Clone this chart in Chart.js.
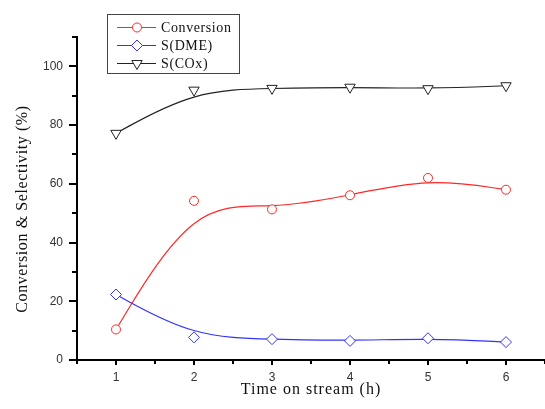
<!DOCTYPE html>
<html>
<head>
<meta charset="utf-8">
<script src="https://cdn.jsdelivr.net/npm/chart.js@4"></script>
<style>
  body { margin: 0; background: #fff; }
  #wrap { width: 545px; height: 409px; }
</style>
</head>
<body>
<div id="wrap"><canvas id="streamChart" width="545" height="409"></canvas></div>
<script>
// time on stream (h) and measured values (%)
const hours = [1, 2, 3, 4, 5, 6];
const conversion = [10.4, 54.2, 51.3, 56.1, 62.0, 58.0];
const selDME = [22.3, 7.7, 7.1, 6.5, 7.4, 6.1];
const selCOx = [77.2, 91.9, 92.5, 92.9, 92.4, 93.4];

const seriesNames = ['Conversion', 'S(DME)', 'S(COx)'];

const xTicks = [1, 2, 3, 4, 5, 6];
const xMinorTicks = [0.5, 1.5, 2.5, 3.5, 4.5, 5.5, 6.5];
const yTicks = [0, 20, 40, 60, 80, 100];
const yMinorTicks = [10, 30, 50, 70, 90, 110];

const RED = 'rgb(255,40,40)';
const BLUE = 'rgb(50,50,255)';
const BLACK = '#222';

function toPoints(values) {
    return hours.map((h, i) => ({ x: h, y: values[i] }));
}

// smooth B-spline through the data points (ends clamped), drawn under the markers
const bsplinePlugin = {
    id: 'bspline',
    beforeDatasetsDraw(chart) {
        const ctx = chart.ctx;
        chart.data.datasets.forEach((ds, i) => {
            const pts = chart.getDatasetMeta(i).data.map(p => ({ x: p.x, y: p.y }));
            const n = pts.length;
            const c = [pts[0], pts[0], ...pts, pts[n - 1], pts[n - 1]];
            ctx.save();
            ctx.beginPath();
            ctx.strokeStyle = ds.borderColor;
            ctx.lineWidth = 1.2;
            for (let k = 0; k + 3 < c.length; k++) {
                const b0 = c[k], b1 = c[k + 1], b2 = c[k + 2], b3 = c[k + 3];
                const sx = (b0.x + 4 * b1.x + b2.x) / 6, sy = (b0.y + 4 * b1.y + b2.y) / 6;
                const c1x = (2 * b1.x + b2.x) / 3, c1y = (2 * b1.y + b2.y) / 3;
                const c2x = (b1.x + 2 * b2.x) / 3, c2y = (b1.y + 2 * b2.y) / 3;
                const ex = (b1.x + 4 * b2.x + b3.x) / 6, ey = (b1.y + 4 * b2.y + b3.y) / 6;
                if (k === 0) ctx.moveTo(sx, sy);
                ctx.bezierCurveTo(c1x, c1y, c2x, c2y, ex, ey);
            }
            ctx.stroke();
            ctx.restore();
        });
    }
};

// minor ticks, axis titles and the boxed legend
const decorPlugin = {
    id: 'decor',
    afterDraw(chart) {
        const ctx = chart.ctx;
        const xs = chart.scales.x, ys = chart.scales.y;
        const area = chart.chartArea;

        ctx.save();
        ctx.strokeStyle = '#000';
        ctx.lineWidth = 2;
        ctx.beginPath();
        xMinorTicks.forEach(v => {
            const px = Math.round(xs.getPixelForValue(v));
            ctx.moveTo(px, area.bottom);
            ctx.lineTo(px, area.bottom + 4);
        });
        yMinorTicks.forEach(v => {
            const py = Math.round(ys.getPixelForValue(v));
            ctx.moveTo(area.left, py);
            ctx.lineTo(area.left - 5, py);
        });
        ctx.stroke();

        // axis titles
        ctx.fillStyle = '#111';
        ctx.font = '16px "Liberation Serif", "Times New Roman", serif';
        ctx.letterSpacing = '1px';
        ctx.textAlign = 'center';
        ctx.textBaseline = 'alphabetic';
        ctx.fillText('Time on stream (h)', 311, 394);

        ctx.save();
        ctx.letterSpacing = '0.6px';
        ctx.translate(27, 209);
        ctx.rotate(-Math.PI / 2);
        ctx.fillText('Conversion & Selectivity (%)', 0, 0);
        ctx.restore();

        // legend
        ctx.letterSpacing = '0px';
        ctx.lineWidth = 1;
        ctx.strokeStyle = '#444';
        ctx.strokeRect(107.5, 14.5, 132, 59);

        ctx.font = '14px "Liberation Serif", "Times New Roman", serif';
        ctx.letterSpacing = '0.6px';
        ctx.textAlign = 'left';
        ctx.textBaseline = 'middle';
        chart.data.datasets.forEach((ds, i) => {
            const y = 27 + i * 18;
            ctx.strokeStyle = ds.borderColor;
            ctx.lineWidth = 1;
            ctx.beginPath();
            ctx.moveTo(117, y + 0.5);
            ctx.lineTo(156, y + 0.5);
            ctx.stroke();
            ctx.fillStyle = '#fff';
            ctx.strokeStyle = ds.pointBorderColor;
            Chart.helpers.drawPoint(ctx, {
                pointStyle: ds.pointStyle,
                radius: ds.pointRadius,
                rotation: ds.pointRotation || 0,
                borderWidth: 1
            }, 137, y + 0.5);
            ctx.fillStyle = '#111';
            ctx.fillText(seriesNames[i], 161, y + 1);
        });
        ctx.restore();
    }
};

const tickFont = { family: '"Liberation Sans", Arial, sans-serif', size: 12 };

new Chart(document.getElementById('streamChart'), {
    type: 'scatter',
    data: {
        datasets: [
            {
                label: seriesNames[0],
                data: toPoints(conversion),
                borderColor: RED,
                pointBorderColor: RED,
                pointBackgroundColor: '#fff',
                pointStyle: 'circle',
                pointRadius: 4.5,
                pointBorderWidth: 1,
                showLine: false
            },
            {
                label: seriesNames[1],
                data: toPoints(selDME),
                borderColor: BLUE,
                pointBorderColor: BLUE,
                pointBackgroundColor: '#fff',
                pointStyle: 'rectRot',
                pointRadius: 5.5,
                pointBorderWidth: 1,
                showLine: false
            },
            {
                label: seriesNames[2],
                data: toPoints(selCOx),
                borderColor: BLACK,
                pointBorderColor: BLACK,
                pointBackgroundColor: '#fff',
                pointStyle: 'triangle',
                pointRotation: 180,
                pointRadius: 6,
                pointBorderWidth: 1,
                showLine: false
            }
        ]
    },
    options: {
        responsive: false,
        animation: false,
        layout: { padding: { top: 37, right: 0, left: 0, bottom: 0 }, autoPadding: false },
        plugins: {
            legend: { display: false },
            tooltip: { enabled: false }
        },
        scales: {
            x: {
                type: 'linear',
                min: 0.5,
                max: 6.5,
                afterBuildTicks: scale => { scale.ticks = xTicks.map(v => ({ value: v })); },
                afterFit: scale => { scale.height = 49; },
                grid: { drawOnChartArea: false, color: '#000', lineWidth: 2, tickLength: 5 },
                border: { display: true, color: '#000', width: 2 },
                ticks: { font: tickFont, color: '#333', padding: 5, maxRotation: 0 }
            },
            y: {
                type: 'linear',
                min: 0,
                max: 110,
                afterBuildTicks: scale => { scale.ticks = yTicks.map(v => ({ value: v })); },
                afterFit: scale => { scale.width = 77; },
                grid: { drawOnChartArea: false, color: '#000', lineWidth: 2, tickLength: 8 },
                border: { display: true, color: '#000', width: 2 },
                ticks: { font: tickFont, color: '#333', padding: 6 }
            }
        }
    },
    plugins: [bsplinePlugin, decorPlugin]
});
</script>
</body>
</html>
